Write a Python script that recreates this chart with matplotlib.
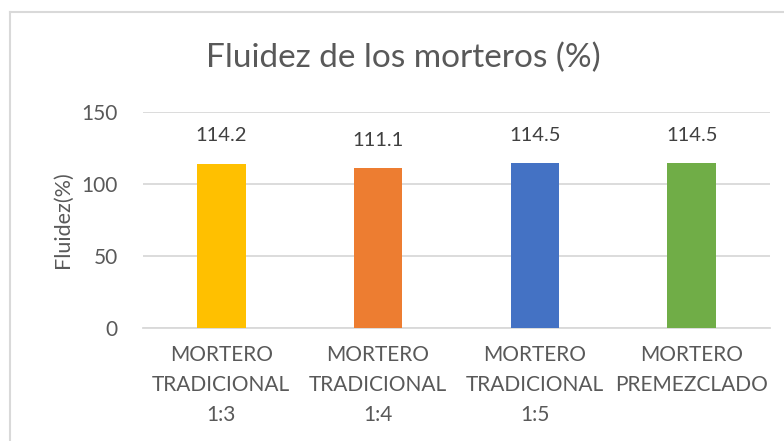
import matplotlib
matplotlib.use('Agg')
import matplotlib.pyplot as plt
from matplotlib.lines import Line2D

categorias = ['MORTERO\nTRADICIONAL\n1:3', 'MORTERO\nTRADICIONAL\n1:4',
              'MORTERO\nTRADICIONAL\n1:5', 'MORTERO\nPREMEZCLADO']
fluidez = [114.2, 111.1, 114.5, 114.5]
colores = ['#FFC000', '#ED7D31', '#4472C4', '#70AD47']
yticks = [0, 50, 100, 150]

plt.rcParams['font.family'] = ['Lato', 'DejaVu Sans']

fig = plt.figure(figsize=(7.84, 4.41), dpi=100)
ax = fig.add_axes([143 / 784, 1 - 328 / 441, 627 / 784, 216 / 441])

x = list(range(len(categorias)))
bars = ax.bar(x, fluidez, width=0.31, color=colores, zorder=3)

# Etiquetas de valor sobre las barras
for b, v in zip(bars, fluidez):
    ax.annotate(f'{v:.1f}', (b.get_x() + b.get_width() / 2, v),
                xytext=(0, 14), textcoords='offset points',
                ha='center', va='bottom', fontsize=14.5, color='#404040')

ax.set_xlim(-0.5, len(categorias) - 0.5)
ax.set_ylim(0, 150)
ax.set_yticks(yticks)
ax.set_xticks(x)
ax.set_xticklabels(categorias, fontsize=15, color='#595959', linespacing=1.65)
ax.tick_params(axis='y', labelsize=15, labelcolor='#595959', length=0, pad=18)
ax.tick_params(axis='x', length=0, pad=12)
ax.grid(axis='y', color='#D9D9D9', linewidth=1.3, zorder=0)
for s in ['top', 'right', 'left']:
    ax.spines[s].set_visible(False)
ax.spines['bottom'].set_color('#D9D9D9')
ax.spines['bottom'].set_linewidth(1.3)

ax.set_ylabel('Fluidez(%)', fontsize=15.5, color='#595959', labelpad=6)
fig.text(403 / 784, 1 - 58 / 441, 'Fluidez de los morteros (%)', ha='center',
         va='center', fontsize=24, color='#595959')

# Borde del área del gráfico
x0, y0 = 10 / 784, 1 - 12 / 441
fig.add_artist(Line2D([x0, x0], [0, y0], transform=fig.transFigure, color='#D9D9D9', lw=1.5))
fig.add_artist(Line2D([x0, 1], [y0, y0], transform=fig.transFigure, color='#D9D9D9', lw=1.5))

fig.savefig('out.png', dpi=100)
